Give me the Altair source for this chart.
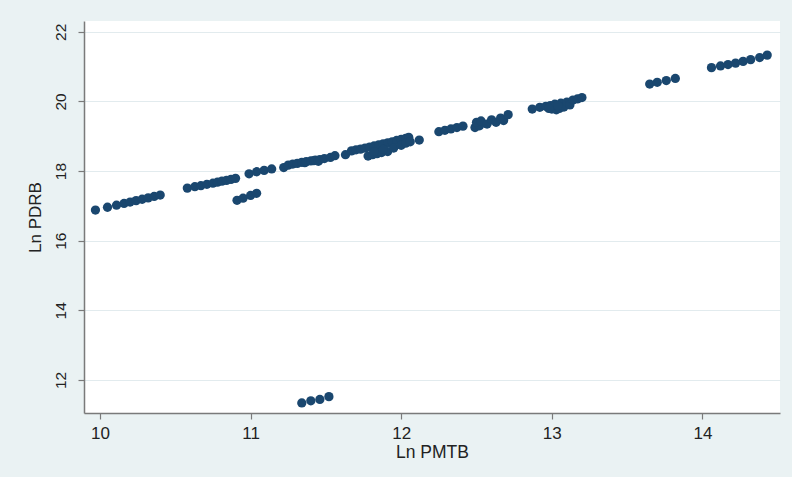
import altair as alt
import pandas as pd

# Ln PMTB (x) and Ln PDRB (y) for each observation
ln_pmtb = [
    9.97, 10.05, 10.11, 10.16, 10.20, 10.24, 10.28, 10.32, 10.36, 10.40,
    10.58, 10.63, 10.67, 10.71, 10.75, 10.78, 10.81, 10.84, 10.87, 10.90,
    10.91, 10.95, 11.00, 11.04,
    10.99, 11.04, 11.09, 11.14,
    11.22, 11.25, 11.28, 11.31, 11.34, 11.36, 11.37, 11.40, 11.42, 11.43,
    11.45, 11.46, 11.49, 11.53, 11.56, 11.63,
    11.67, 11.70, 11.73, 11.76, 11.79, 11.82, 11.85, 11.88, 11.91, 11.94,
    11.97, 12.00, 12.03, 12.05,
    11.78, 11.81, 11.84, 11.87, 11.91, 11.82, 11.88, 11.95, 12.00, 12.03,
    12.06, 12.12,
    12.25, 12.29, 12.33, 12.37, 12.41,
    12.49, 12.52, 12.50, 12.53, 12.57, 12.60, 12.63, 12.66, 12.68, 12.71,
    12.87, 12.92, 12.96, 12.99, 13.00, 13.02, 13.03, 13.05, 13.06, 13.08,
    13.10, 13.12, 13.14, 13.17, 13.20, 12.98, 13.04,
    13.65, 13.70, 13.76, 13.82,
    14.06, 14.12, 14.17, 14.22, 14.27, 14.32, 14.38, 14.43,
    11.34, 11.40, 11.46, 11.52,
]
ln_pdrb = [
    16.88, 16.96, 17.02, 17.07, 17.11, 17.15, 17.19, 17.23, 17.27, 17.31,
    17.51, 17.55, 17.58, 17.62, 17.65, 17.68, 17.71, 17.73, 17.76, 17.79,
    17.16, 17.22, 17.30, 17.36,
    17.92, 17.98, 18.02, 18.06,
    18.10, 18.17, 18.20, 18.22, 18.25, 18.24, 18.27, 18.29, 18.30, 18.31,
    18.28, 18.33, 18.36, 18.39, 18.44, 18.47,
    18.58, 18.61, 18.63, 18.66, 18.69, 18.72, 18.75, 18.78, 18.81, 18.84,
    18.88, 18.91, 18.94, 18.97,
    18.43, 18.47, 18.50, 18.53, 18.56, 18.56, 18.62, 18.66, 18.74, 18.80,
    18.84, 18.89,
    19.13, 19.17, 19.21, 19.25, 19.29,
    19.25, 19.30, 19.40, 19.44, 19.35, 19.47, 19.40, 19.52, 19.45, 19.62,
    19.78, 19.83, 19.86, 19.88, 19.78, 19.92, 19.76, 19.80, 19.95, 19.84,
    19.98, 19.90, 20.04, 20.07, 20.11, 19.80, 19.88,
    20.50, 20.55, 20.60, 20.66,
    20.97, 21.02, 21.06, 21.10, 21.15, 21.20, 21.26, 21.33,
    11.34, 11.40, 11.44, 11.52,
]

x_ticks = [10, 11, 12, 13, 14]
y_ticks = [12, 14, 16, 18, 20, 22]

df = pd.DataFrame({"Ln PMTB": ln_pmtb, "Ln PDRB": ln_pdrb})

FONT = "Liberation Sans"
AXIS_GRAY = "#7a7a7a"
TEXT = "#222222"

chart = (
    alt.Chart(df)
    .mark_circle(size=86, color="#1a476f", opacity=1)
    .encode(
        x=alt.X(
            "Ln PMTB:Q",
            scale=alt.Scale(domain=[9.894, 14.515], nice=False, zero=False),
            axis=alt.Axis(
                values=x_ticks,
                grid=False,
                title="Ln PMTB",
                titleFontSize=17.5,
                titleFontWeight="normal",
                titleColor=TEXT,
                titlePadding=2,
                labelFontSize=17,
                labelColor=TEXT,
                labelPadding=6,
                tickSize=6,
                tickColor=AXIS_GRAY,
                tickWidth=1.2,
                domainColor=AXIS_GRAY,
                domainWidth=1.5,
            ),
        ),
        y=alt.Y(
            "Ln PDRB:Q",
            scale=alt.Scale(domain=[11.05, 22.31], nice=False, zero=False),
            axis=alt.Axis(
                values=y_ticks,
                grid=True,
                gridColor="#e2ebee",
                gridWidth=1,
                title="Ln PDRB",
                titleFontSize=17,
                titleFontWeight="normal",
                titleColor=TEXT,
                titlePadding=9,
                labelFontSize=15.5,
                labelColor=TEXT,
                labelAngle=270,
                labelAlign="center",
                labelBaseline="bottom",
                labelPadding=10,
                tickSize=6,
                tickColor=AXIS_GRAY,
                tickWidth=1.2,
                domainColor=AXIS_GRAY,
                domainWidth=1.5,
            ),
        ),
    )
    .properties(
        width=696,
        height=392,
        background="#eaf2f3",
        padding={"left": 84, "top": 21, "right": 12, "bottom": 64},
        autosize=alt.AutoSizeParams(type="none"),
    )
    .configure_view(fill="white", stroke=None)
    .configure_axis(labelFont=FONT, titleFont=FONT)
)

chart.save("out.html", embed_options={"renderer": "svg", "actions": False})
